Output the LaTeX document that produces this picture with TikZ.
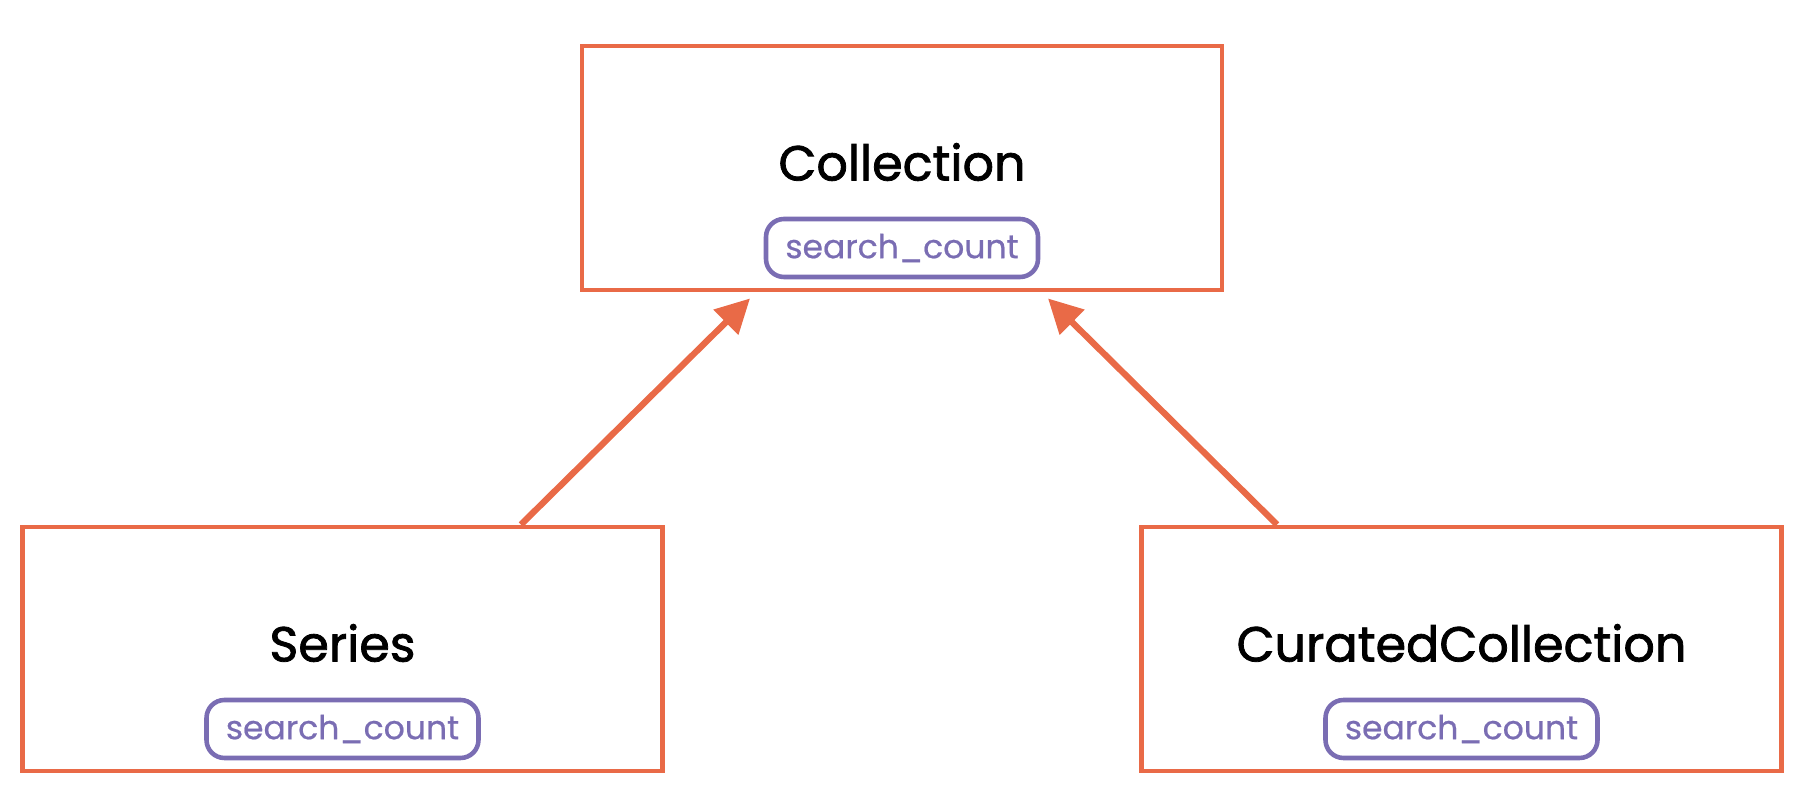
\documentclass[tikz,border=0pt]{standalone}
\usepackage{fontspec}
\setmainfont{Poppins}
\newfontfamily\classfont{Poppins}[FakeBold=1.6]
\newfontfamily\fieldfont{Poppins}[FakeBold=0.6]
\usetikzlibrary{arrows.meta, positioning}
\definecolor{boxorange}{HTML}{E96A47}
\definecolor{fieldpurple}{HTML}{7A6DB3}

\begin{document}
\begin{tikzpicture}[
    classbox/.style={rectangle, draw=boxorange, line width=1.4pt, minimum width=6.4cm, minimum height=2.44cm},
    classname/.style={font=\classfont\fontsize{14}{16}\selectfont, text=black, inner sep=0pt},
    field/.style={rectangle, draw=fieldpurple, line width=1.3pt, rounded corners=0.18cm, text=fieldpurple, minimum width=2.72cm, minimum height=0.58cm, inner sep=0pt, font=\fieldfont\fontsize{9.4}{12}\selectfont},
    inherit/.style={draw=boxorange, line width=1.8pt, -{Triangle[length=0.34cm, width=0.34cm]}}
]
\useasboundingbox (0,0) rectangle (18.06,7.88);

% Parent class
\node[classbox] (coll) at (9.02,6.20) {};
\node[classname] (colltitle) at ([yshift=0.06cm]coll.center) {Collection};
\node[field] (collfield) at ([yshift=-0.80cm]coll.center) {search\_count};

% Child classes
\node[classbox] (series) at (3.425,1.39) {};
\node[classname] (seriestitle) at ([yshift=0.06cm]series.center) {Series};
\node[field] (seriesfield) at ([yshift=-0.80cm]series.center) {search\_count};

\node[classbox] (curated) at (14.615,1.39) {};
\node[classname] (curatedtitle) at ([yshift=0.06cm]curated.center) {CuratedCollection};
\node[field] (curatedfield) at ([yshift=-0.80cm]curated.center) {search\_count};

% Arrows
\draw[inherit] ([xshift=1.785cm]series.north) -- ([xshift=-1.52cm, yshift=-0.06cm]coll.south);
\draw[inherit] ([xshift=-1.845cm]curated.north) -- ([xshift=1.46cm, yshift=-0.06cm]coll.south);

\end{tikzpicture}
\end{document}
